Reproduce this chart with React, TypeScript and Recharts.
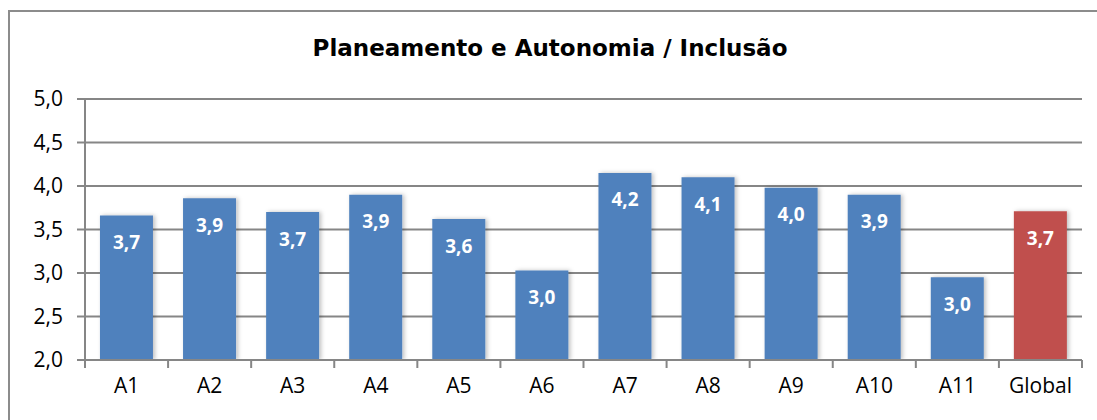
import { BarChart, Bar, XAxis, YAxis, CartesianGrid, LabelList, Cell } from 'recharts';

const categories = ['A1', 'A2', 'A3', 'A4', 'A5', 'A6', 'A7', 'A8', 'A9', 'A10', 'A11', 'Global'];
const scores = [3.66, 3.86, 3.7, 3.9, 3.62, 3.03, 4.15, 4.1, 3.98, 3.9, 2.95, 3.71];
const yTicks = [2.0, 2.5, 3.0, 3.5, 4.0, 4.5, 5.0];

const data = categories.map((name, i) => ({ name, value: scores[i] }));

const fmt = (v: number) => v.toFixed(1).replace('.', ',');
const FONT = '"Open Sans", sans-serif';
const GRID = '#868686';

const XTick = (props: any) => {
  const { x, y, payload, index, width } = props;
  const band = width / categories.length;
  return (
    <g>
      <line x1={x - band / 2} x2={x - band / 2} y1={y - 8} y2={y} stroke={GRID} strokeWidth={2} />
      {index === categories.length - 1 && (
        <line x1={x + band / 2} x2={x + band / 2} y1={y - 8} y2={y} stroke={GRID} strokeWidth={2} />
      )}
      <text x={x} y={y + 25} textAnchor="middle" fill="#000" fontSize={21} fontFamily={FONT}>
        {payload.value}
      </text>
    </g>
  );
};

export default function App() {
  return (
    <div style={{ position: 'absolute', left: 0, top: 0, width: 1097, height: 420, overflow: 'hidden', background: '#fff' }}>
      <div style={{ position: 'absolute', left: 8, top: 10, width: 1120, height: 440, border: '2px solid #8c8c8c' }} />
      <div style={{ position: 'absolute', left: 0, top: 35, width: 1100, textAlign: 'center', fontFamily: '"DejaVu Sans", sans-serif', fontWeight: 'bold', fontSize: 23, color: '#000' }}>
        Planeamento e Autonomia / Inclusão
      </div>
      <div style={{ position: 'absolute', left: 0, top: 0 }}>
        <BarChart width={1097} height={420} data={data} margin={{ top: 99, right: 15, bottom: 30, left: 25 }} barCategoryGap="18%">
          <defs>
            <filter id="shadow" x="-20%" y="-20%" width="140%" height="140%">
              <feDropShadow dx="2" dy="0" stdDeviation="2" floodColor="#000" floodOpacity="0.25" />
            </filter>
          </defs>
          <CartesianGrid vertical={false} stroke={GRID} strokeWidth={2} />
          <XAxis
            dataKey="name"
            axisLine={{ stroke: GRID, strokeWidth: 2 }}
            tickLine={false}
            tick={<XTick />}
            height={30}
            interval={0}
          />
          <YAxis
            domain={[2, 5]}
            ticks={yTicks}
            tickFormatter={fmt}
            width={60}
            axisLine={{ stroke: GRID, strokeWidth: 2 }}
            tickLine={{ stroke: GRID, strokeWidth: 2 }}
            tickSize={8}
            tickMargin={14}
            tick={{ fill: '#000', fontSize: 21, fontFamily: FONT }}
            allowDataOverflow
          />
          <Bar dataKey="value" isAnimationActive={false} style={{ filter: 'url(#shadow)' }}>
            {data.map((d) => (
              <Cell key={d.name} fill={d.name === 'Global' ? '#C0504D' : '#4F81BD'} />
            ))}
            <LabelList
              dataKey="value"
              position="insideTop"
              offset={20}
              formatter={(v: any) => fmt(Number(v))}
              fill="#fff"
              fontSize={19}
              fontWeight="bold"
              fontFamily={FONT}
            />
          </Bar>
        </BarChart>
      </div>
    </div>
  );
}
